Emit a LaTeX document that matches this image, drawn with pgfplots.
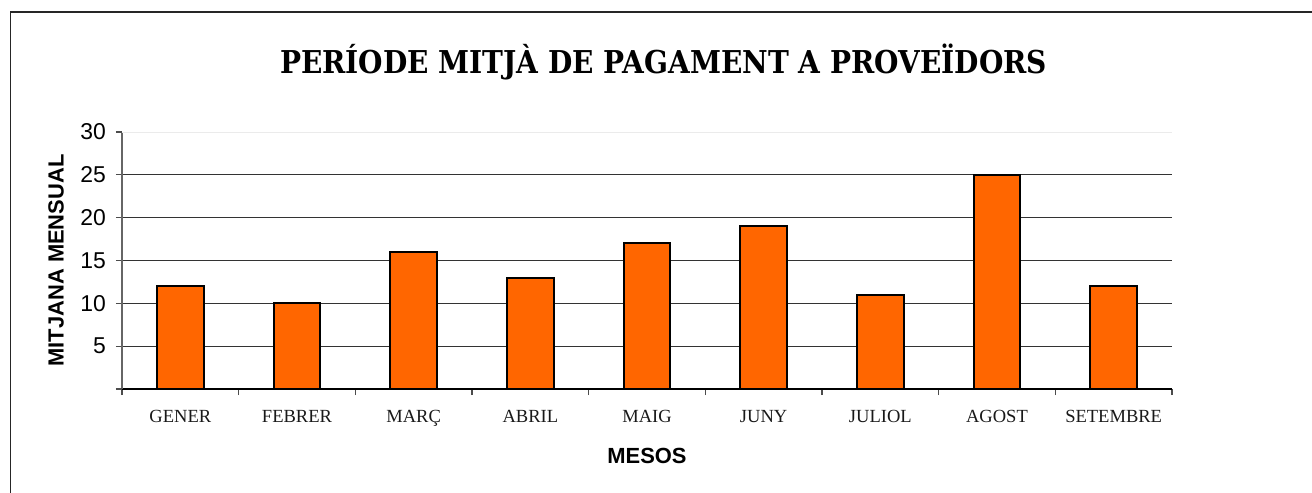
\documentclass[border=0pt]{standalone}
\usepackage{fontspec}
\setmainfont{Liberation Serif}
\newfontfamily\arial{Liberation Sans}
\newfontfamily\titlefont{DejaVu Serif}[FakeStretch=0.89]
\usepackage{pgfplots}
\pgfplotsset{compat=1.18}
\definecolor{barorange}{HTML}{FF6600}
\begin{document}
\begin{tikzpicture}
\useasboundingbox (0,0) rectangle (656bp,-246.5bp);
% outer frame (top and left edges)
\draw[line width=0.8bp, black!85] (5.2bp,0bp-246.5bp) -- (5.2bp,-6bp) -- (656bp,-6bp);
\begin{axis}[
  at={(61bp,-194.5bp)}, anchor=south west,
  scale only axis, width=525bp, height=128.5bp,
  xmin=-0.5, xmax=8.5, ymin=0, ymax=30,
  separate axis lines,
  axis x line*=bottom, axis y line*=left,
  x axis line style={black, line width=0.8bp, -},
  y axis line style={black!60, line width=0.8bp, -},
  xtick={-0.5,0.5,...,8.5},
  x tick label as interval,
  xticklabels={GENER,FEBRER,MARÇ,ABRIL,MAIG,JUNY,JULIOL,AGOST,SETEMBRE},
  xticklabel style={font=\fontsize{9.3}{11}\selectfont, color=black!90, yshift=-4bp},
  ytick={5,10,...,25},
  yticklabels={5,10,15,20,25},
  extra y ticks={0,30},
  extra y tick labels={,30},
  extra y tick style={grid=none},
  yticklabel style={font=\arial\fontsize{11.5}{13}\selectfont, xshift=-1.5bp},
  tick align=outside,
  major tick length=3bp,
  tick style={black!70, line width=0.6bp},
  ymajorgrids,
  grid style={black!80, line width=0.6bp},
  clip=false,
]
\addplot[ybar, bar width=0.4, fill=barorange, draw=black, line width=1bp]
  coordinates {(0,12) (1,10) (2,16) (3,13) (4,17) (5,19) (6,11) (7,25) (8,12)};
\draw[black!8, line width=0.5bp] (axis cs:-0.5,30) -- (axis cs:8.5,30);
\end{axis}
\node[anchor=base, font=\titlefont\bfseries\fontsize{15.8}{19}\selectfont] at (331.75bp,-36.5bp) {PERÍODE MITJÀ DE PAGAMENT A PROVEÏDORS};
\node[rotate=90, font=\arial\bfseries\fontsize{11}{13}\selectfont] at (28bp,-130.25bp) {MITJANA MENSUAL};
\node[anchor=base, font=\arial\bfseries\fontsize{11}{13}\selectfont] at (323.5bp,-231.5bp) {MESOS};
\end{tikzpicture}
\end{document}
